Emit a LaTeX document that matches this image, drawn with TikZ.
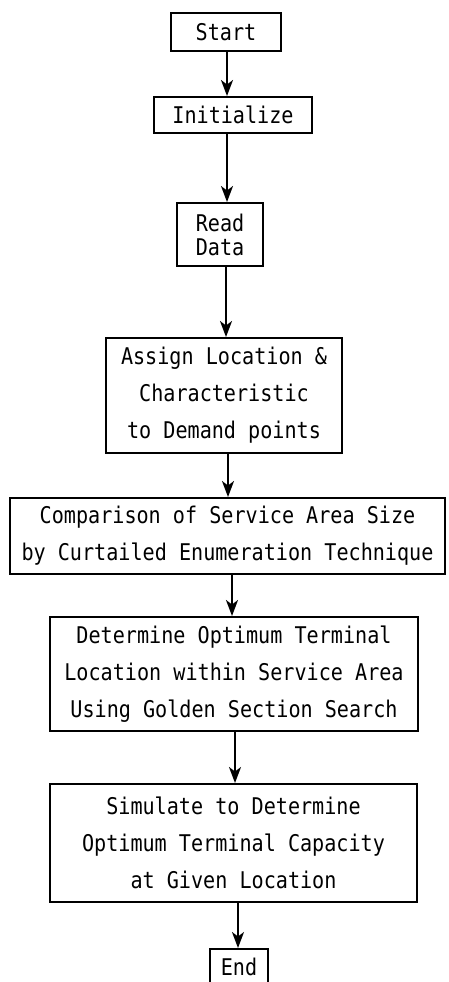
\documentclass[tikz,border=0pt]{standalone}
\usepackage{fontspec}
\newfontfamily\typew{DejaVu Sans Mono}[FakeStretch=0.875]
\usetikzlibrary{arrows.meta}
\begin{document}
\begin{tikzpicture}[x=1pt,y=-1pt,
  box/.style={draw,line width=2pt,rectangle,inner sep=0pt,align=center,
    font=\typew\fontsize{23pt}{37pt}\selectfont},
  arr/.style={line width=2pt,-{Stealth[length=16pt,width=12pt,inset=4.5pt]}}]
\useasboundingbox[fill=white] (0,0) rectangle (448,982);
\node[box,minimum width=110pt,minimum height=38pt] (start) at (226,32) {Start};
\node[box,minimum width=158pt,minimum height=36pt] (init) at (233,115) {Initialize};
\node[box,minimum width=86pt,minimum height=63pt,
  font=\typew\fontsize{23pt}{24pt}\selectfont] (read) at (220,234.5) {Read\\Data};
\node[box,minimum width=236pt,minimum height=115pt] (assign) at (224,395.5)
  {Assign Location \&\\Characteristic\\to Demand points};
\node[box,minimum width=435pt,minimum height=76pt] (comp) at (227.5,536)
  {Comparison of Service Area Size\\by Curtailed Enumeration Technique};
\node[box,minimum width=368pt,minimum height=114pt] (det) at (234,674)
  {Determine Optimum Terminal\\Location within Service Area\\Using Golden Section Search};
\node[box,minimum width=367pt,minimum height=118pt] (sim) at (233.5,843)
  {Simulate to Determine\\Optimum Terminal Capacity\\at Given Location};
\node[box,minimum width=58pt,minimum height=36pt] (end) at (239,967) {End};
\draw[arr] ([xshift=1pt]start.south) -- ([xshift=-6pt]init.north);
\draw[arr] ([xshift=-6pt]init.south) -- ([xshift=7pt]read.north);
\draw[arr] ([xshift=6pt]read.south) -- ([xshift=2pt]assign.north);
\draw[arr] ([xshift=4pt]assign.south) -- ([xshift=0.5pt]comp.north);
\draw[arr] ([xshift=4.5pt]comp.south) -- ([xshift=-2pt]det.north);
\draw[arr] ([xshift=1pt]det.south) -- ([xshift=1.5pt]sim.north);
\draw[arr] ([xshift=4.5pt]sim.south) -- ([xshift=-1pt]end.north);
\end{tikzpicture}
\end{document}
